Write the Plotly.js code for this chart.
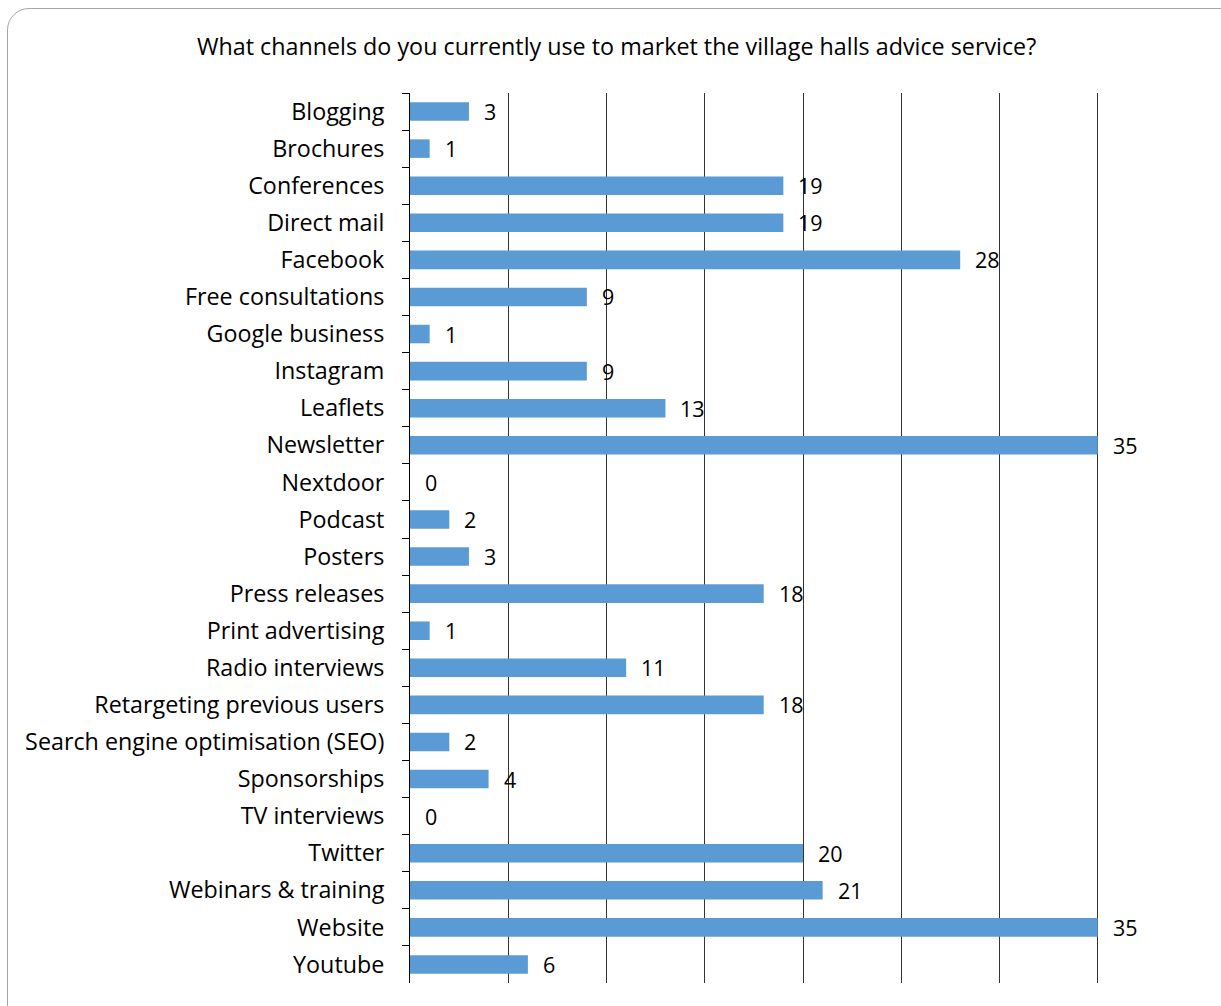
<!DOCTYPE html>
<html>
<head>
<meta charset="utf-8">
<script src="https://cdn.plot.ly/plotly-3.0.1.min.js"></script>
<style>
html,body{margin:0;padding:0;background:#fff;overflow:hidden;}
#frame{position:absolute;left:7px;top:8px;width:1240px;height:1020px;border:1.5px solid #a6a6a6;border-radius:22px;box-sizing:border-box;}
#chart{position:absolute;left:0;top:0;width:1221px;height:1006px;}
</style>
</head>
<body>
<div id="frame"></div>
<div id="chart"></div>
<script>
const categories = ["Blogging","Brochures","Conferences","Direct mail","Facebook","Free consultations","Google business","Instagram","Leaflets","Newsletter","Nextdoor","Podcast","Posters","Press releases","Print advertising","Radio interviews","Retargeting previous users","Search engine optimisation (SEO)","Sponsorships","TV interviews","Twitter","Webinars & training","Website","Youtube"];
const counts = [3,1,19,19,28,9,1,9,13,35,0,2,3,18,1,11,18,2,4,0,20,21,35,6];
const titleText = "What channels do you currently use to market the village halls advice service?";

const font = "'Open Sans', sans-serif";

const trace = {
  type: "bar",
  orientation: "h",
  y: categories,
  x: counts,
  marker: {color: "#5b9bd5"},
  hoverinfo: "x+y"
};

const annotations = categories.map((c, i) => ({
  x: counts[i], y: c, xref: "x", yref: "y",
  text: String(counts[i]), showarrow: false,
  xanchor: "left", xshift: 13,
  font: {family: font, size: 21.5, color: "#000"}
}));

const layout = {
  width: 1221, height: 1006,
  paper_bgcolor: "rgba(0,0,0,0)",
  plot_bgcolor: "rgba(0,0,0,0)",
  margin: {l: 410, r: 25, t: 93, b: 23},
  title: {text: titleText, font: {family: font, size: 23.3, color: "#000"}, x: 0.505, xanchor: "center", y: 0.953, yanchor: "middle"},
  bargap: 0.5,
  showlegend: false,
  xaxis: {range: [0, 40], dtick: 5, tick0: 0, showticklabels: false, showgrid: true, gridcolor: "#333333", gridwidth: 1, zeroline: false, showline: false, ticks: ""},
  yaxis: {autorange: "reversed", type: "category", showline: true, linecolor: "#000", linewidth: 1, ticks: "outside", tickson: "boundaries", ticklen: 7, tickcolor: "#000", ticklabelstandoff: 20, showgrid: false, zeroline: false, tickfont: {family: font, size: 23.3, color: "#000"}},
  annotations: annotations
};

Plotly.newPlot("chart", [trace], layout, {displayModeBar: false, staticPlot: true});
</script>
</body>
</html>
